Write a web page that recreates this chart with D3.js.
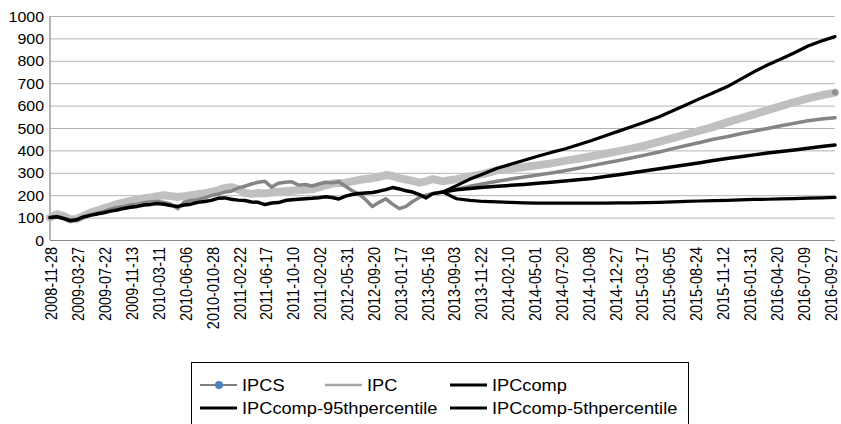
<!DOCTYPE html>
<html>
<head>
<meta charset="utf-8">
<script src="https://cdn.jsdelivr.net/npm/d3@7"></script>
<style>
  body { margin: 0; background: #fff; }
  svg { display: block; font-family: "Liberation Sans", Arial, sans-serif; }
</style>
</head>
<body>
<div id="chart"></div>
<script>
// category labels shown under the axis (one every N observations)
var tickLabels = [
  "2008-11-28", "2009-03-27", "2009-07-22", "2009-11-13", "2010-03-11",
  "2010-06-06", "2010-010-28", "2011-02-22", "2011-06-17", "2011-10-10",
  "2011-02-02", "2012-05-31", "2012-09-20", "2013-01-17", "2013-05-16",
  "2013-09-03", "2013-11-22", "2014-02-10", "2014-05-01", "2014-07-20",
  "2014-10-08", "2014-12-27", "2015-03-17", "2015-06-05", "2015-08-24",
  "2015-11-12", "2016-01-31", "2016-04-20", "2016-07-09", "2016-09-27"
];
var yTicks = [0, 100, 200, 300, 400, 500, 600, 700, 800, 900, 1000];

// history: read every quarter label, from label 0 up to 14.25
var histStep = 0.25;
var histIpcs = [100, 115, 108, 92, 94, 108, 122, 132, 142, 150, 160, 168, 174, 180, 186, 190,
  195, 200, 196, 192, 196, 200, 204, 208, 215, 222, 232, 236, 226, 210, 206, 210,
  208, 212, 215, 218, 220, 222, 224, 226, 235, 244, 252, 254, 256, 262, 268, 272,
  276, 282, 290, 286, 276, 270, 264, 256, 262, 272];
var histIpc = [100, 106, 98, 90, 93, 104, 113, 120, 128, 138, 145, 150, 156, 160, 166, 170,
  172, 168, 160, 140, 170, 176, 180, 188, 198, 205, 214, 218, 232, 240, 250, 258,
  262, 236, 253, 258, 260, 245, 248, 241, 250, 258, 255, 260, 240, 220, 205, 180,
  150, 168, 184, 160, 140, 150, 172, 190, 200, 208];
var histComp = [100, 104, 96, 86, 90, 103, 110, 116, 122, 129, 134, 141, 146, 150, 156, 159,
  163, 160, 154, 150, 156, 160, 168, 172, 177, 186, 188, 182, 178, 176, 170, 168,
  158, 165, 167, 176, 180, 182, 184, 186, 189, 193, 190, 183, 196, 203, 208, 210,
  212, 218, 225, 234, 228, 220, 214, 203, 188, 207];

// projections: 30 evenly spaced readings from the fan start to the last observation
// (the series run a little past the last printed label)
var fcStart = 14.63;
var fcEnd = 29.22;
var fcIpcs = [262, 272, 284, 295, 311, 318, 326, 334, 342, 353, 363, 374, 385, 397, 409,
  422, 439, 455, 472, 488, 505, 525, 543, 561, 580, 598, 616, 632, 646, 658];
var fcIpc = [214, 227, 240, 251, 262, 272, 281, 290, 299, 309, 320, 332, 344, 355, 367,
  380, 393, 408, 422, 435, 450, 461, 474, 486, 498, 510, 521, 532, 540, 546];
var fcComp = [214, 224, 230, 236, 240, 244, 248, 253, 258, 263, 269, 275, 283, 291, 300,
  309, 318, 327, 336, 345, 355, 364, 372, 380, 388, 395, 402, 410, 417, 424];
var fcComp95 = [214, 243, 272, 296, 320, 338, 356, 374, 391, 406, 425, 444, 465, 486, 507,
  528, 550, 577, 604, 631, 657, 684, 717, 751, 781, 808, 836, 866, 888, 908];
var fcComp5 = [214, 184, 177, 172, 170, 168, 166, 165, 165, 165, 165, 165, 165, 166, 166,
  167, 168, 170, 172, 174, 176, 177, 179, 181, 182, 184, 185, 187, 188, 190];

var seriesNames = ["IPCS", "IPC", "IPCcomp", "IPCcomp-95thpercentile", "IPCcomp-5thpercentile"];

// turn arrays into [position, value] pairs
function histPoints(values) {
  return values.map(function (v, i) { return [i * histStep, v]; });
}
function fcPoints(values) {
  var step = (fcEnd - fcStart) / (values.length - 1);
  return values.map(function (v, i) { return [fcStart + i * step, v]; });
}

var series = [
  { name: "IPCS", points: histPoints(histIpcs).concat(fcPoints(fcIpcs)), color: "#c0c0c0", width: 8 },
  { name: "IPC", points: histPoints(histIpc).concat(fcPoints(fcIpc)), color: "#858585", width: 3.5 },
  { name: "IPCcomp", points: histPoints(histComp).concat(fcPoints(fcComp)), color: "#000", width: 3.5 },
  { name: "IPCcomp-95thpercentile", points: fcPoints(fcComp95), color: "#000", width: 3.2 },
  { name: "IPCcomp-5thpercentile", points: fcPoints(fcComp5), color: "#000", width: 3.2 }
];

var W = 841, H = 424;
var margin = { top: 16, left: 50, right: 6, bottom: 184 };
var width = W - margin.left - margin.right;
var height = H - margin.top - margin.bottom;
var stretch = 1.14; // the picture text is a bit wide

var svg = d3.select("#chart").append("svg")
  .attr("width", W)
  .attr("height", H);

var x = d3.scaleLinear().domain([0, fcEnd]).range([0, width]);
var y = d3.scaleLinear().domain([0, 1000]).range([height, 0]);

var g = svg.append("g")
  .attr("transform", "translate(" + margin.left + "," + margin.top + ")");

//gridlines + y labels
var yAxis = d3.axisLeft(y).tickValues(yTicks).tickSize(-width).tickPadding(0).tickFormat(d3.format("d"));
var yG = g.append("g").call(yAxis);
yG.select(".domain").remove();
yG.selectAll(".tick line")
  .attr("stroke", function (d) { return d === 0 ? "#8a8a8a" : "#b4b4b4"; })
  .attr("stroke-width", 1);
yG.selectAll(".tick text")
  .attr("x", -6 / stretch)
  .attr("dy", "0.36em")
  .attr("transform", "scale(" + stretch + ",1)")
  .style("font-size", "14px")
  .style("fill", "#000");

// vertical axis line
g.append("line")
  .attr("x1", 0).attr("x2", 0)
  .attr("y1", 0).attr("y2", height)
  .attr("stroke", "#6e6e6e").attr("stroke-width", 1);

//x axis with rotated date labels
var xAxis = d3.axisBottom(x)
  .tickValues(d3.range(tickLabels.length))
  .tickFormat(function (i) { return tickLabels[i]; })
  .tickSize(0);
var xG = g.append("g").attr("transform", "translate(0," + height + ")").call(xAxis);
xG.select(".domain").remove();
xG.selectAll(".tick text")
  .attr("x", 0).attr("y", 0).attr("dy", "0.36em")
  .attr("text-anchor", "end")
  .attr("transform", "translate(1,7) scale(" + stretch + ",1) rotate(-90)")
  .style("font-size", "14.5px")
  .style("fill", "#000");

// lines
var line = d3.line()
  .x(function (d) { return x(d[0]); })
  .y(function (d) { return y(d[1]); });

g.selectAll(".series")
  .data(series)
  .enter().append("path")
  .attr("class", "series")
  .attr("d", function (d) { return line(d.points); })
  .attr("fill", "none")
  .attr("stroke", function (d) { return d.color; })
  .attr("stroke-width", function (d) { return d.width; })
  .attr("stroke-linejoin", "round")
  .attr("stroke-linecap", "round");

// end marker of IPCS
var lastIpcs = series[0].points[series[0].points.length - 1];
g.append("circle")
  .attr("cx", x(lastIpcs[0]))
  .attr("cy", y(lastIpcs[1]))
  .attr("r", 3)
  .attr("fill", "#8f8f8f");

// legend
var legend = svg.append("g");
legend.append("rect")
  .attr("x", 191.5).attr("y", 362.5)
  .attr("width", 497).attr("height", 80)
  .attr("fill", "#fff").attr("stroke", "#000").attr("stroke-width", 1);

var legendItems = [
  { name: seriesNames[0], lx: 200, row: 0, color: "#808080", w: 2, dot: true },
  { name: seriesNames[1], lx: 325, row: 0, color: "#a6a6a6", w: 2.5 },
  { name: seriesNames[2], lx: 450, row: 0, color: "#000", w: 3 },
  { name: seriesNames[3], lx: 200, row: 1, color: "#000", w: 3 },
  { name: seriesNames[4], lx: 450, row: 1, color: "#000", w: 3 }
];
var rowY = [385, 408];

legendItems.forEach(function (it) {
  var yy = rowY[it.row];
  legend.append("line")
    .attr("x1", it.lx).attr("x2", it.lx + 37)
    .attr("y1", yy).attr("y2", yy)
    .attr("stroke", it.color).attr("stroke-width", it.w);
  if (it.dot) {
    legend.append("circle")
      .attr("cx", it.lx + 19).attr("cy", yy).attr("r", 4)
      .attr("fill", "#4f81bd");
  }
  legend.append("text")
    .attr("x", (it.lx + 42) / stretch)
    .attr("y", yy)
    .attr("dy", "0.36em")
    .attr("transform", "scale(" + stretch + ",1)")
    .style("font-size", "16px")
    .text(it.name);
});
</script>
</body>
</html>
